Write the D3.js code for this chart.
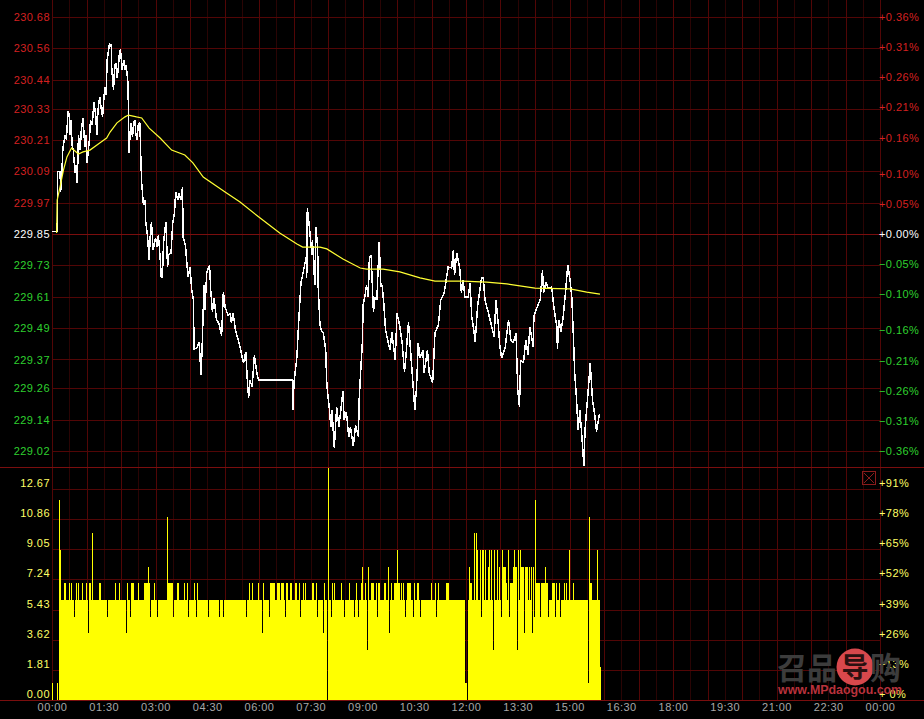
<!DOCTYPE html>
<html><head><meta charset="utf-8">
<script src="https://cdn.jsdelivr.net/npm/d3@7/dist/d3.min.js"></script>
<style>html,body{margin:0;padding:0;background:#000}svg{display:block}
text{font-family:"Liberation Sans",Arial,sans-serif;font-size:11px;letter-spacing:.45px}</style>
</head><body><svg id="c" width="924" height="719"></svg>
<script>
const priceTicks=[230.68,230.56,230.44,230.33,230.21,230.09,229.97,229.85,229.73,229.61,229.49,229.37,229.26,229.14,229.02];
const percentTicks=[0.36,0.31,0.26,0.21,0.16,0.10,0.05,0,-0.05,-0.10,-0.16,-0.21,-0.26,-0.31,-0.36];
const volumeTicks=[12.67,10.86,9.05,7.24,5.43,3.62,1.81,0];
const volumePctTicks=[91,78,65,52,39,26,13,0];
const timeTicks=["00:00","01:30","03:00","04:30","06:00","07:30","09:00","10:30","12:00","13:30","15:00","16:30","18:00","19:30","21:00","22:30","00:00"];

const priceMinutes=[0,9,10,14,15,17,19,23,25,28,30,31,33,35,37,40,42,44,46,49,51,54,57,59,61,65,67,70,73,76,78,80,83,86,88,90,92,94,96,100,103,104,107,109,111,113,115,117,119,122,125,127,129,132,133,134,137,140,142,144,146,148,150,153,154,156,159,162,163,166,169,171,173,176,180,183,185,188,190,192,194,198,201,203,207,210,213,215,219,221,224,227,228,232,235,237,240,243,246,247,252,256,259,261,263,264,266,269,274,276,279,282,286,290,295,298,301,306,310,312,315,319,327,331,333,337,340,342,344,348,352,356,359,418,419,421,426,428,430,433,437,442,443,444,447,452,453,457,459,462,463,466,468,472,476,478,482,485,487,491,495,499,506,508,512,516,519,524,528,533,534,537,540,541,544,547,550,552,555,559,562,565,569,572,574,577,580,585,588,591,597,600,605,609,613,615,620,626,631,634,637,640,645,647,653,656,662,666,672,676,682,689,695,698,700,704,709,712,715,718,724,727,730,733,736,740,747,750,753,759,765,769,772,776,779,782,788,794,798,802,807,810,813,815,820,824,828,831,837,838,843,849,853,855,859,863,869,873,878,879,882,885,889,893,897,901,904,907,909,912,915,918,922,925,927,933,936,940,944,947,952];
const priceValues=[229.86,229.86,230.09,230.09,230.01,230.076,230.18,230.229,230.21,230.32,230.305,230.23,230.286,230.19,230.17,230.083,230.114,230.045,230.229,230.171,230.248,230.294,230.183,230.229,230.122,230.21,230.286,230.267,230.355,230.305,230.229,230.324,230.374,230.324,230.298,230.363,230.412,230.382,230.516,230.577,230.573,230.477,230.4,230.496,230.504,230.447,230.477,230.535,230.558,230.477,230.516,230.477,230.496,230.431,230.324,230.16,230.275,230.221,230.278,230.286,230.229,230.21,230.267,230.275,230.171,230.045,229.961,229.98,229.896,229.846,229.75,229.846,229.896,229.789,229.835,229.8,229.846,229.762,229.686,229.686,229.816,229.896,229.724,229.77,229.777,229.892,229.93,230.011,229.98,230.007,229.98,230.03,229.839,229.808,229.724,229.686,229.724,229.636,229.598,229.41,229.414,229.437,229.311,229.406,229.559,229.655,229.559,229.701,229.731,229.636,229.552,229.605,229.521,229.51,229.46,229.628,229.571,229.54,229.548,229.51,229.548,229.483,229.418,229.376,229.357,229.399,229.28,229.223,229.292,229.265,229.387,229.322,229.292,229.292,229.177,229.284,229.38,229.471,229.552,229.663,229.705,229.762,229.682,229.949,229.892,229.77,229.827,229.655,229.877,229.8,229.647,229.502,229.483,229.471,229.406,229.272,229.188,229.112,229.177,229.031,229.188,229.112,229.249,229.139,229.169,229.073,229.112,229.039,229.119,229.073,229.207,229.33,229.445,229.578,229.609,229.655,229.609,229.758,229.77,229.552,229.609,229.598,229.819,229.647,229.655,229.586,229.483,229.433,229.406,229.475,229.368,229.548,229.494,229.433,229.322,229.368,229.513,229.33,229.177,229.265,229.433,229.376,229.406,229.318,229.406,229.318,229.28,229.471,229.502,229.598,229.624,229.724,229.72,229.789,229.693,229.777,229.72,229.624,229.674,229.609,229.609,229.663,229.533,229.49,229.437,229.571,229.682,229.682,229.598,229.548,229.494,229.456,229.598,229.51,229.418,229.376,229.414,229.521,229.445,229.433,229.471,229.253,229.188,229.368,229.357,229.445,229.387,229.494,229.418,229.533,229.567,229.598,229.712,229.624,229.666,229.643,229.647,229.567,229.494,229.41,229.521,229.475,229.533,229.624,229.731,229.674,229.609,229.445,229.318,229.227,229.1,229.177,229.062,228.963,229.1,229.265,229.357,229.215,229.158,229.093,229.161];

const avgMinutes=[8,9,14,20,26,34,38,46,54,66,83,95,101,113,127,133,147,156,169,188,208,231,245,263,301,327,362,396,426,436,466,478,506,536,547,576,605,640,666,715,756,791,840,901,930,953];
const avgValues=[229.854,229.98,230.03,230.095,230.145,230.179,230.171,230.156,230.164,230.171,230.198,230.217,230.24,230.275,230.298,230.305,230.298,230.294,230.255,230.217,230.171,230.152,230.122,230.068,230.011,229.972,229.911,229.854,229.812,229.8,229.8,229.793,229.754,229.72,229.716,229.716,229.705,229.682,229.67,229.67,229.666,229.659,229.643,229.64,229.628,229.62];

// volume runs: [start minute, length in minutes, volume]; later entries overwrite earlier ones
const volumeBase=[[0,1,1],[9,1,1],[12,707,6],[719,2,1],[721,3,0],[724,229,6],[953,2,2]];
const volumeHigh=[[12,2,12],[14,2,9],[20,2,7],[23,2,7],[30,2,7],[33,2,7],[41,2,7],[46,2,7],[53,2,7],[59,2,7],[64,3,7],[70,2,10],[81,2,7],[84,2,7],[110,2,7],[117,2,7],[131,2,7],[138,4,7],[150,2,7],[160,10,7],[167,2,8],[177,2,7],[200,2,11],[202,8,7],[218,3,7],[230,2,7],[235,4,7],[247,2,7],[253,2,7],[343,2,7],[348,2,7],[359,2,7],[367,2,7],[379,9,7],[392,4,7],[399,4,7],[406,4,7],[414,3,7],[423,3,7],[429,3,7],[436,2,7],[440,2,7],[452,3,7],[459,2,7],[473,2,7],[487,2,7],[490,2,7],[503,2,7],[517,2,7],[529,2,7],[537,2,7],[539,2,8],[544,2,7],[548,3,8],[555,5,7],[563,2,7],[567,4,7],[577,3,7],[585,2,8],[590,2,7],[594,12,7],[600,2,9],[607,2,7],[610,2,7],[614,2,7],[617,2,7],[619,5,7],[630,2,7],[635,3,7],[659,2,7],[666,2,7],[671,2,7],[685,5,7],[725,2,8],[727,3,7],[734,2,10],[737,2,10],[739,2,9],[744,2,9],[748,3,9],[753,2,9],[758,2,8],[760,2,9],[763,2,9],[769,2,9],[774,2,9],[777,2,8],[783,2,9],[785,5,8],[790,2,7],[793,2,9],[796,5,7],[802,6,8],[803,2,9],[811,2,9],[814,2,9],[816,4,8],[823,4,8],[830,2,8],[833,2,8],[836,2,8],[840,2,12],[842,7,7],[851,14,7],[858,2,8],[870,5,7],[877,2,7],[882,2,7],[890,2,7],[894,2,7],[899,2,9],[906,2,7],[934,2,11],[936,3,7],[948,2,9]];
const volumeDips=[[39,2,5],[63,2,4],[96,2,5],[129,2,4],[136,2,5],[171,2,5],[183,2,5],[211,2,5],[237,2,5],[251,2,5],[272,2,5],[291,2,5],[298,2,5],[338,2,5],[366,2,4],[378,2,5],[406,2,5],[431,2,5],[460,2,5],[472,2,4],[486,2,5],[507,2,5],[526,2,5],[533,2,5],[547,2,3],[566,2,5],[586,2,4],[614,2,5],[627,2,5],[640,2,5],[668,2,5],[746,2,5],[767,2,3],[781,2,5],[795,2,5],[809,2,3],[821,2,4],[835,2,4],[839,2,5],[849,2,5],[863,2,5],[875,2,5],[884,2,5],[932,2,1]];
const volumeExtreme=[[478,2,0],[480,2,14]];

const svg=d3.select("#c");
svg.append("rect").attr("width",924).attr("height",719).attr("fill","#000");
const x=d3.scaleLinear([0,1440],[52,880]);
const y=d3.scaleLinear([229.02,230.68],[451,17]);
const yPct=d3.scaleLinear([-0.36,0.36],[451,17]);
const yVol=d3.scaleLinear([0,12.67],[700,489]);
const yVolPct=d3.scaleLinear([0,91],[700,489]);
const snap=v=>Math.round(v)+0.5;

// grid
const g=svg.append("g").attr("fill","none").attr("shape-rendering","crispEdges");
d3.range(0,1441,30).forEach(m=>{
  g.append("line").attr("x1",snap(x(m))).attr("x2",snap(x(m))).attr("y1",0).attr("y2",700)
   .attr("stroke",m%60===0?"#520606":"#2a0404");
});
priceTicks.forEach(t=>g.append("line").attr("x1",52).attr("x2",880).attr("y1",snap(y(t))).attr("y2",snap(y(t)))
  .attr("stroke",t===229.85?"#7a0e0e":"#520606"));
volumeTicks.slice(0,-1).forEach(t=>g.append("line").attr("x1",52).attr("x2",880).attr("y1",snap(yVol(t))).attr("y2",snap(yVol(t))).attr("stroke","#520606"));
g.append("line").attr("x1",0).attr("x2",924).attr("y1",467.5).attr("y2",467.5).attr("stroke","#7a0e0e");
g.append("line").attr("x1",0).attr("x2",924).attr("y1",700.5).attr("y2",700.5).attr("stroke","#7a0e0e");

// volume: each run paints whole pixel columns; short runs paint a single column
const columns=new Map();
[volumeBase,volumeHigh,volumeDips,volumeExtreme].forEach(list=>list.forEach(([s,l,v])=>{
  const a=Math.round(x(s));
  const b=l<=2&&list!==volumeBase?a+1:Math.max(a+1,Math.round(x(s+l)));
  for(let c=a;c<b;c++)columns.set(c,v);
}));
const bars=[...columns].filter(d=>d[1]>0).sort((p,q)=>p[0]-q[0]);
svg.append("g").attr("fill","#ffff00").attr("shape-rendering","crispEdges")
 .selectAll("rect").data(bars).join("rect")
 .attr("x",d=>d[0]).attr("width",1)
 .attr("y",d=>Math.max(468,Math.round(yVol(d[1]))))
 .attr("height",d=>700-Math.max(468,Math.round(yVol(d[1]))));

// lines
const line=d3.line().x(d=>x(d[0])).y(d=>y(d[1]));
svg.append("path").attr("d",line(d3.zip(priceMinutes,priceValues))).attr("fill","none").attr("stroke","#fff").attr("stroke-width",1.5).attr("shape-rendering","crispEdges").attr("stroke-linejoin","miter").attr("stroke-miterlimit",2);
svg.append("path").attr("d",line(d3.zip(avgMinutes,avgValues))).attr("fill","none").attr("stroke","#ffff33").attr("stroke-width",1.2);

// axes
function styleAxis(sel,color,dy){
  sel.select(".domain").remove();
  sel.selectAll(".tick line").remove();
  sel.selectAll(".tick text").attr("fill",color).attr("dy",dy||"0.32em");
}
const pc=t=>t>0?"#d42020":t<0?"#2fd02f":"#ffffff";
svg.append("g").attr("transform","translate(52,0)")
 .call(d3.axisLeft(y).tickValues(priceTicks).tickSize(0).tickPadding(2).tickFormat(d3.format(".2f")))
 .call(s=>styleAxis(s)).selectAll(".tick text").attr("fill",d=>pc(d-229.85));
svg.append("g").attr("transform","translate(879,0)")
 .call(d3.axisRight(yPct).tickValues(percentTicks).tickSize(0).tickPadding(0).tickFormat(d=>(d<0?"\u2212":"+")+Math.abs(d).toFixed(2)+"%"))
 .call(s=>styleAxis(s)).selectAll(".tick text").attr("fill",d=>pc(d));
svg.append("g").attr("transform","translate(52,-6)")
 .call(d3.axisLeft(yVol).tickValues(volumeTicks).tickSize(0).tickPadding(2).tickFormat(d3.format(".2f")))
 .call(s=>styleAxis(s,"#ffff66"));
svg.append("g").attr("transform","translate(879,-6)")
 .call(d3.axisRight(yVolPct).tickValues(volumePctTicks).tickSize(0).tickPadding(0).tickFormat(d=>"+"+(d===0?" ":"")+d+"%"))
 .call(s=>styleAxis(s,"#ffff66"));
const xTick=d3.range(0,1441,90);
svg.append("g").attr("transform","translate(0,700)")
 .call(d3.axisBottom(x).tickValues(xTick).tickSize(0).tickPadding(3).tickFormat((d,i)=>timeTicks[i]))
 .call(s=>styleAxis(s,"#a8a8a8","0.71em"));

// close box
const box=svg.append("g").attr("fill","none").attr("stroke","#8a1c1c");
box.append("rect").attr("x",862.5).attr("y",471.5).attr("width",13).attr("height",13);
box.append("path").attr("d","M864 473L874 483M874 473L864 483");

// watermark
const wm=svg.append("g");
wm.append("text").attr("x",777).attr("y",679).attr("fill","#3c3c3c").style("font-family","'Noto Sans CJK SC'").style("font-size","30px").style("font-weight","700").style("letter-spacing","0").text("召品");
wm.append("circle").attr("cx",855).attr("cy",667).attr("r",18.5).attr("fill","#d8484c");
wm.append("text").attr("x",855).attr("y",677).attr("text-anchor","middle").attr("fill","#2a1010").style("font-family","'Noto Sans CJK SC'").style("font-size","27px").style("font-weight","700").style("letter-spacing","0").text("导");
wm.append("text").attr("x",870).attr("y",679).attr("fill","#3c3c3c").style("font-family","'Noto Sans CJK SC'").style("font-size","31px").style("font-weight","700").style("letter-spacing","0").text("购");
wm.append("text").attr("x",778).attr("y",694).attr("fill","#b8323c").style("font-size","12.4px").style("font-weight","700").style("letter-spacing","0").text("www.MPdaogou.com");
</script></body></html>
